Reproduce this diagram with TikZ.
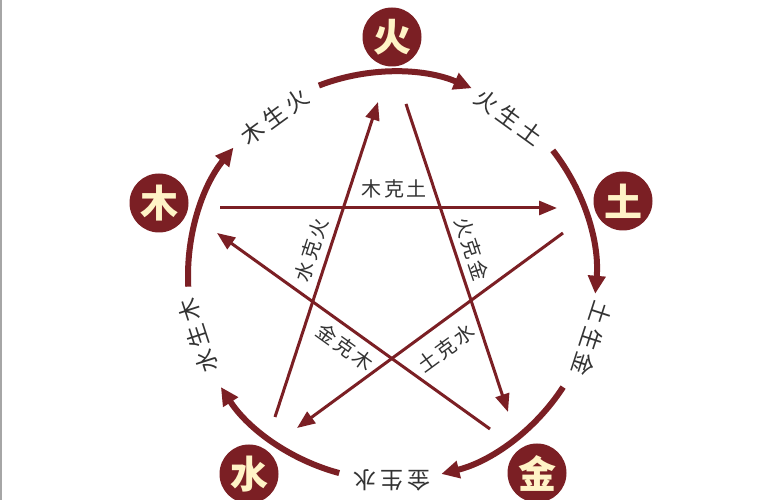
\documentclass[tikz,border=0pt]{standalone}
\usepackage{fontspec}
\setmainfont{Noto Sans CJK SC}
\usetikzlibrary{arrows.meta}
\definecolor{maroon}{HTML}{7B1F24}
\definecolor{cream}{HTML}{FFF3C6}
\definecolor{ink}{HTML}{333333}
\newcommand\trio[4]{#1\hspace{#4}#2\hspace{#4}#3}
\tikzset{
  elem/.style={circle, fill=maroon, minimum size=59pt, inner sep=0pt, text=cream,
    font=\fontsize{38}{38}\selectfont\bfseries},
  ringarc/.style={draw=maroon, line width=6pt, -{Triangle[length=18pt,width=17pt]}},
  starline/.style={draw=maroon, line width=3pt, -{Triangle[length=18pt,width=14pt]}},
  outerlbl/.style={text=ink, inner sep=0pt, font=\fontsize{23}{23}\selectfont},
  innerlbl/.style={text=ink, inner sep=0pt, font=\fontsize{20}{20}\selectfont}
}
\begin{document}
\begin{tikzpicture}[x=1pt,y=1pt]
\useasboundingbox (0,0) rectangle (773,500);
\fill[white] (0,0) rectangle (773,500);
\draw[gray!70, line width=1.5pt] (0.75,0) -- (0.75,500);
\coordinate (C) at (392,224);
% ring arcs
\draw[ringarc] ([shift={(183:204)}]C) arc[start angle=183, end angle=141, radius=204];
\draw[ringarc] ([shift={(111:204)}]C) arc[start angle=111, end angle=67, radius=204];
\draw[ringarc] ([shift={(38:204)}]C) arc[start angle=38, end angle=-5, radius=204];
\draw[ringarc] ([shift={(-33:204)}]C) arc[start angle=-33, end angle=-76, radius=204];
\draw[ringarc] ([shift={(255:204)}]C) arc[start angle=255, end angle=213, radius=204];
% element nodes
\node[elem] (huo) at (392,463) {火};
\node[elem] (mu) at (159,297) {木};
\node[elem] (tu) at (623,299) {土};
\node[elem] (shui) at (249,26) {水};
\node[elem] (jin) at (537,27) {金};
% outer labels
\node[outerlbl, rotate=36] (l1) at (275,383) {\trio{木}{生}{火}{4pt}};
\node[outerlbl, rotate=-36] (l2) at (509,383) {\trio{火}{生}{土}{4pt}};
\node[outerlbl, rotate=-108] (l3) at (592,161) {\trio{土}{生}{金}{4pt}};
\node[outerlbl, rotate=180] (l4) at (392,20) {\trio{金}{生}{水}{4pt}};
\node[outerlbl, rotate=108] (l5) at (198,164) {\trio{水}{生}{木}{4pt}};
% star line end points
\coordinate (a1) at (220,292); \coordinate (b1) at (557,292);
\coordinate (a2) at (406,396); \coordinate (b2) at (508,88);
\coordinate (a3) at (275,83);  \coordinate (b3) at (378,398);
\coordinate (a4) at (490,71);  \coordinate (b4) at (217,267);
\coordinate (a5) at (563,267); \coordinate (b5) at (297,72);
\draw[starline] (a1) -- (b1);
\draw[starline] (a2) -- (b2);
\draw[starline] (a3) -- (b3);
\draw[starline] (a4) -- (b4);
\draw[starline] (a5) -- (b5);
% inner labels
\node[innerlbl] (k1) at (394,311) {\trio{木}{克}{土}{2.5pt}};
\node[innerlbl, rotate=-71.7] (k2) at (472,251) {\trio{火}{克}{金}{2.5pt}};
\node[innerlbl, rotate=71.9] (k3) at (311,250) {\trio{水}{克}{火}{2.5pt}};
\node[innerlbl, rotate=-35.7] (k4) at (345,153) {\trio{金}{克}{木}{2.5pt}};
\node[innerlbl, rotate=36.2] (k5) at (446,152) {\trio{土}{克}{水}{2.5pt}};
\end{tikzpicture}
\end{document}
